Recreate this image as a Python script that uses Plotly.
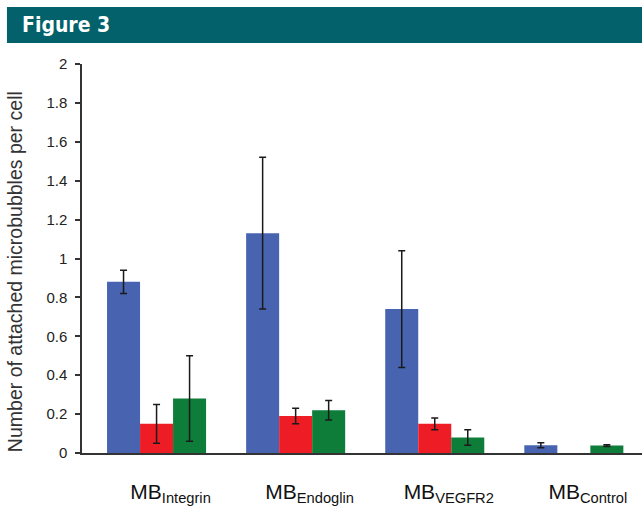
import plotly.graph_objects as go

categories = ["MB<sub>Integrin</sub>", "MB<sub>Endoglin</sub>", "MB<sub>VEGFR2</sub>", "MB<sub>Control</sub>"]
positions = [0, 1, 2, 3]
blue_vals = [0.88, 1.13, 0.74, 0.04]
blue_err = [0.06, 0.39, 0.30, 0.013]
red_vals = [0.15, 0.19, 0.15, None]
red_err = [0.10, 0.04, 0.03, None]
green_vals = [0.28, 0.22, 0.08, 0.038]
green_err = [0.22, 0.05, 0.04, 0.005]
y_ticks = [0, 0.2, 0.4, 0.6, 0.8, 1, 1.2, 1.4, 1.6, 1.8, 2]
y_tick_labels = ["0", "0.2", "0.4", "0.6", "0.8", "1", "1.2", "1.4", "1.6", "1.8", "2"]
y_title = "Number of attached microbubbles per cell"

FONT = "Liberation Sans, Arial, sans-serif"
err_style = dict(type="data", thickness=1.5, width=3.5, color="#1a1a1a")

fig = go.Figure()
for vals, errs, col in [(blue_vals, blue_err, "#4864B0"),
                        (red_vals, red_err, "#EE1C25"),
                        (green_vals, green_err, "#0E7D3A")]:
    fig.add_trace(go.Bar(x=positions, y=vals, marker=dict(color=col, line=dict(width=0)),
                         error_y=dict(array=errs, **err_style), showlegend=False))

fig.update_layout(
    width=642, height=506,
    margin=dict(l=82, r=0, t=64, b=53),
    paper_bgcolor="white", plot_bgcolor="white",
    barmode="group", bargap=0.288, bargroupgap=0,
    font=dict(family=FONT, color="#222"),
    xaxis=dict(range=[-0.536, 3.49], tickvals=positions, ticktext=categories,
               showline=True, linecolor="#333", linewidth=1.5, ticks="",
               showgrid=False, zeroline=False, tickfont=dict(size=21, color="#111"),
               ticklabelstandoff=19, ticklabelshift=14),
    yaxis=dict(range=[0, 2], tickvals=y_ticks, ticktext=y_tick_labels,
               showline=True, linecolor="#333", linewidth=1.5, ticks="outside",
               ticklen=5, tickwidth=1.5, tickcolor="#333", showgrid=False, zeroline=False,
               tickfont=dict(size=15, color="#222"), ticklabelstandoff=5),
)

fig.add_annotation(text=y_title, xref="paper", yref="paper", x=-0.1196, y=0.465,
                   xanchor="center", yanchor="middle", textangle=-90, showarrow=False,
                   font=dict(size=19.5, color="#333"))

fig.add_shape(type="rect", xref="paper", yref="paper",
              x0=-0.134, x1=1.0, y0=1.054, y1=1.1465,
              fillcolor="#02616B", line=dict(width=0), layer="above")
fig.add_annotation(text="<b>Figure 3</b>", xref="paper", yref="paper",
                   x=-0.11, y=1.100, xanchor="left", yanchor="middle", showarrow=False,
                   font=dict(family="Liberation Sans Narrow, DejaVu Sans Condensed, Arial Narrow, sans-serif",
                             size=21, color="white"))

fig.write_html("out.html", config={"displayModeBar": False},
               post_script="document.body.style.margin='0';document.body.style.overflow='hidden';")
